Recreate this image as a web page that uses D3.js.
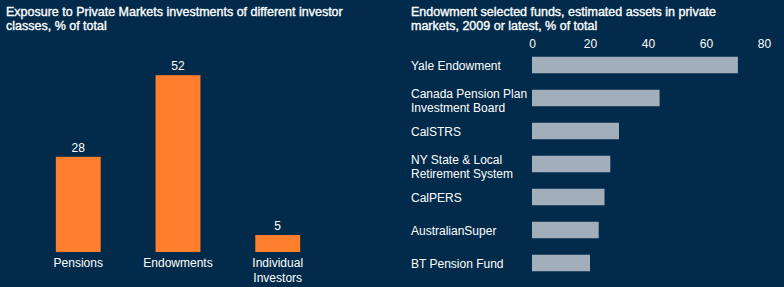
<html>
<head>
    <script src="https://d3js.org/d3.v7.min.js"></script>
    <style>
        body { margin: 0; background: #022a4a; }
        svg { display: block; font-family: "Liberation Sans", Arial, sans-serif; }
    </style>
</head>
<body>
    <svg id="chart" width="784" height="287"></svg>
    <script>
        // left panel data
        const investorClasses = ["Pensions", "Endowments", "Individual Investors"];
        const exposure = [28, 52, 5];

        // right panel data
        const funds = ["Yale Endowment", "Canada Pension Plan Investment Board", "CalSTRS",
            "NY State & Local Retirement System", "CalPERS", "AustralianSuper", "BT Pension Fund"];
        const fundLabels = [["Yale Endowment"], ["Canada Pension Plan", "Investment Board"], ["CalSTRS"],
            ["NY State & Local", "Retirement System"], ["CalPERS"], ["AustralianSuper"], ["BT Pension Fund"]];
        const privateShare = [71, 44, 30, 27, 25, 23, 20];
        const xTicks = [0, 20, 40, 60, 80];

        const svg = d3.select("#chart");
        svg.append("rect").attr("width", 784).attr("height", 287).attr("fill", "#022a4a");

        // titles (medium weight look: regular + thin stroke)
        const addTitle = (x, lines) => {
            const t = svg.append("text").attr("x", x).attr("y", 16)
                .style("font-size", "12.5px")
                .attr("fill", "#fff").attr("stroke", "#fff").attr("stroke-width", 0.35);
            lines.forEach((l, j) => t.append("tspan").attr("x", x).attr("y", 16 + j * 14).text(l));
        };
        addTitle(6, ["Exposure to Private Markets investments of different investor", "classes, % of total"]);
        addTitle(411, ["Endowment selected funds, estimated assets in private", "markets, 2009 or latest, % of total"]);

        // left: column chart
        const xL = d3.scaleBand().domain(investorClasses).range([1, 355])
            .paddingInner(0.55).paddingOuter(0.55);
        const yL = d3.scaleLinear().domain([0, 60]).range([252, 48]);

        const left = svg.append("g");
        left.selectAll("rect.col")
            .data(investorClasses)
            .join("rect")
            .attr("class", "col")
            .attr("x", d => xL(d))
            .attr("y", (d, i) => yL(exposure[i]))
            .attr("width", xL.bandwidth())
            .attr("height", (d, i) => yL(0) - yL(exposure[i]))
            .attr("fill", "#ff7f2c");

        left.selectAll("text.val")
            .data(investorClasses)
            .join("text")
            .attr("class", "val")
            .attr("x", d => xL(d) + xL.bandwidth() / 2)
            .attr("y", (d, i) => yL(exposure[i]) - 5)
            .attr("text-anchor", "middle")
            .style("font-size", "12px")
            .attr("fill", "#fff")
            .text((d, i) => exposure[i]);

        left.selectAll("text.cat")
            .data(investorClasses)
            .join("text")
            .attr("class", "cat")
            .attr("text-anchor", "middle")
            .style("font-size", "12px")
            .attr("fill", "#fff")
            .each(function (d) {
                const words = d === "Individual Investors" ? ["Individual", "Investors"] : [d];
                const t = d3.select(this);
                words.forEach((w, j) => {
                    t.append("tspan")
                        .attr("x", xL(d) + xL.bandwidth() / 2)
                        .attr("y", 267 + j * 15)
                        .text(w);
                });
            });

        // right: horizontal bar chart
        const xR = d3.scaleLinear().domain([0, 80]).range([532, 764]);
        const yR = d3.scaleBand().domain(funds).range([48.5, 279.5])
            .paddingInner(0.5).paddingOuter(0.25);

        const right = svg.append("g");
        const axis = right.append("g")
            .attr("transform", "translate(0,48)")
            .call(d3.axisTop(xR).tickValues(xTicks).tickSize(0).tickPadding(0));
        axis.select(".domain").remove();
        axis.selectAll("text")
            .style("font-size", "12px")
            .style("font-family", "Liberation Sans, Arial, sans-serif")
            .attr("fill", "#fff");

        right.selectAll("rect.bar")
            .data(funds)
            .join("rect")
            .attr("class", "bar")
            .attr("x", xR(0))
            .attr("y", d => yR(d))
            .attr("width", (d, i) => xR(privateShare[i]) - xR(0))
            .attr("height", yR.bandwidth())
            .attr("fill", "#a2aeba");

        right.selectAll("text.lab")
            .data(funds)
            .join("text")
            .attr("class", "lab")
            .style("font-size", "12px")
            .attr("fill", "#fff")
            .each(function (d, i) {
                const lines = fundLabels[i];
                const cy = yR(d) + yR.bandwidth() / 2 + 1;
                const t = d3.select(this);
                lines.forEach((w, j) => {
                    t.append("tspan")
                        .attr("x", 411)
                        .attr("y", cy + 4 + (j - (lines.length - 1) / 2) * 14 + (lines.length > 1 ? 2 : 0))
                        .text(w);
                });
            });
    </script>
</body>
</html>
